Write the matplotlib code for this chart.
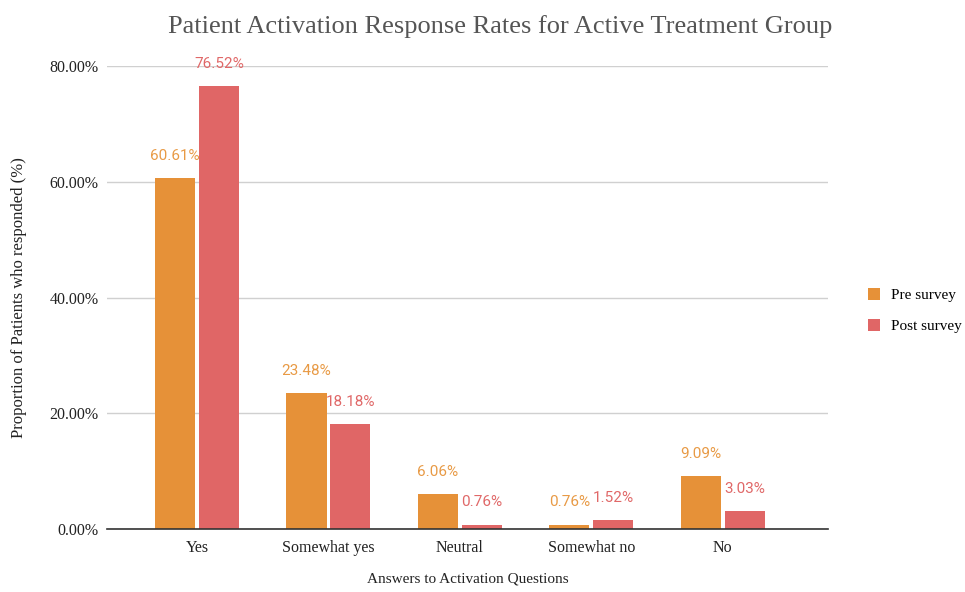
import numpy as np
import matplotlib.pyplot as plt

# Data
categories = ['Yes', 'Somewhat yes', 'Neutral', 'Somewhat no', 'No']
pre_survey = [60.61, 23.48, 6.06, 0.76, 9.09]
post_survey = [76.52, 18.18, 0.76, 1.52, 3.03]
yticks = [0, 20, 40, 60, 80]

orange = '#E69138'
red = '#E06666'
serif = ['Liberation Serif', 'DejaVu Serif']

fig = plt.figure(figsize=(9.65, 5.92), dpi=100)
ax = fig.add_axes([0.111, 0.1064, 0.747, 0.7821])

x = np.arange(len(categories))
w = 0.305
off = 0.167
b1 = ax.bar(x - off, pre_survey, w, color=orange, label='Pre survey', zorder=3)
b2 = ax.bar(x + off, post_survey, w, color=red, label='Post survey', zorder=3)

for bars, col in [(b1, '#E89A45'), (b2, '#E06868')]:
    for b in bars:
        ax.annotate('%.2f%%' % b.get_height(), (b.get_x() + b.get_width() / 2, b.get_height()),
                    xytext=(0, 11), textcoords='offset points', ha='center', va='bottom',
                    fontsize=11, color=col, family='Roboto')

ax.set_xlim(-0.684, 4.80)
ax.set_ylim(0, 80)
ax.set_yticks(yticks)
ax.set_yticklabels(['%.2f%%' % v for v in yticks], family=serif, fontsize=11.5, color='#222222')
ax.set_xticks(x)
ax.set_xticklabels(categories, family=serif, fontsize=11.5, color='#222222')
ax.tick_params(length=0, pad=8)
ax.tick_params(axis='y', pad=6)

ax.grid(axis='y', color='#d0d0d0', linewidth=1, zorder=0)
for s in ['top', 'right', 'left']:
    ax.spines[s].set_visible(False)
ax.spines['bottom'].set_color('#333333')
ax.spines['bottom'].set_linewidth(1.2)
ax.spines['bottom'].set_zorder(4)

ax.set_xlabel('Answers to Activation Questions', family=serif, fontsize=11,
              color='#222222', labelpad=12)
ax.set_ylabel('Proportion of Patients who responded (%)', family=serif, fontsize=12,
              color='#222222', labelpad=16)

fig.text(0.518, 0.955, 'Patient Activation Response Rates for Active Treatment Group',
         ha='center', va='center', fontsize=19, color='#555555', family=serif)

ax.legend(loc='center left', bbox_to_anchor=(0.885, 0.475), bbox_transform=fig.transFigure,
          frameon=False, prop={'family': serif, 'size': 11}, handlelength=0.8,
          handleheight=0.8, labelspacing=1.1, handletextpad=0.7)

fig.savefig('out.png', dpi=100)
